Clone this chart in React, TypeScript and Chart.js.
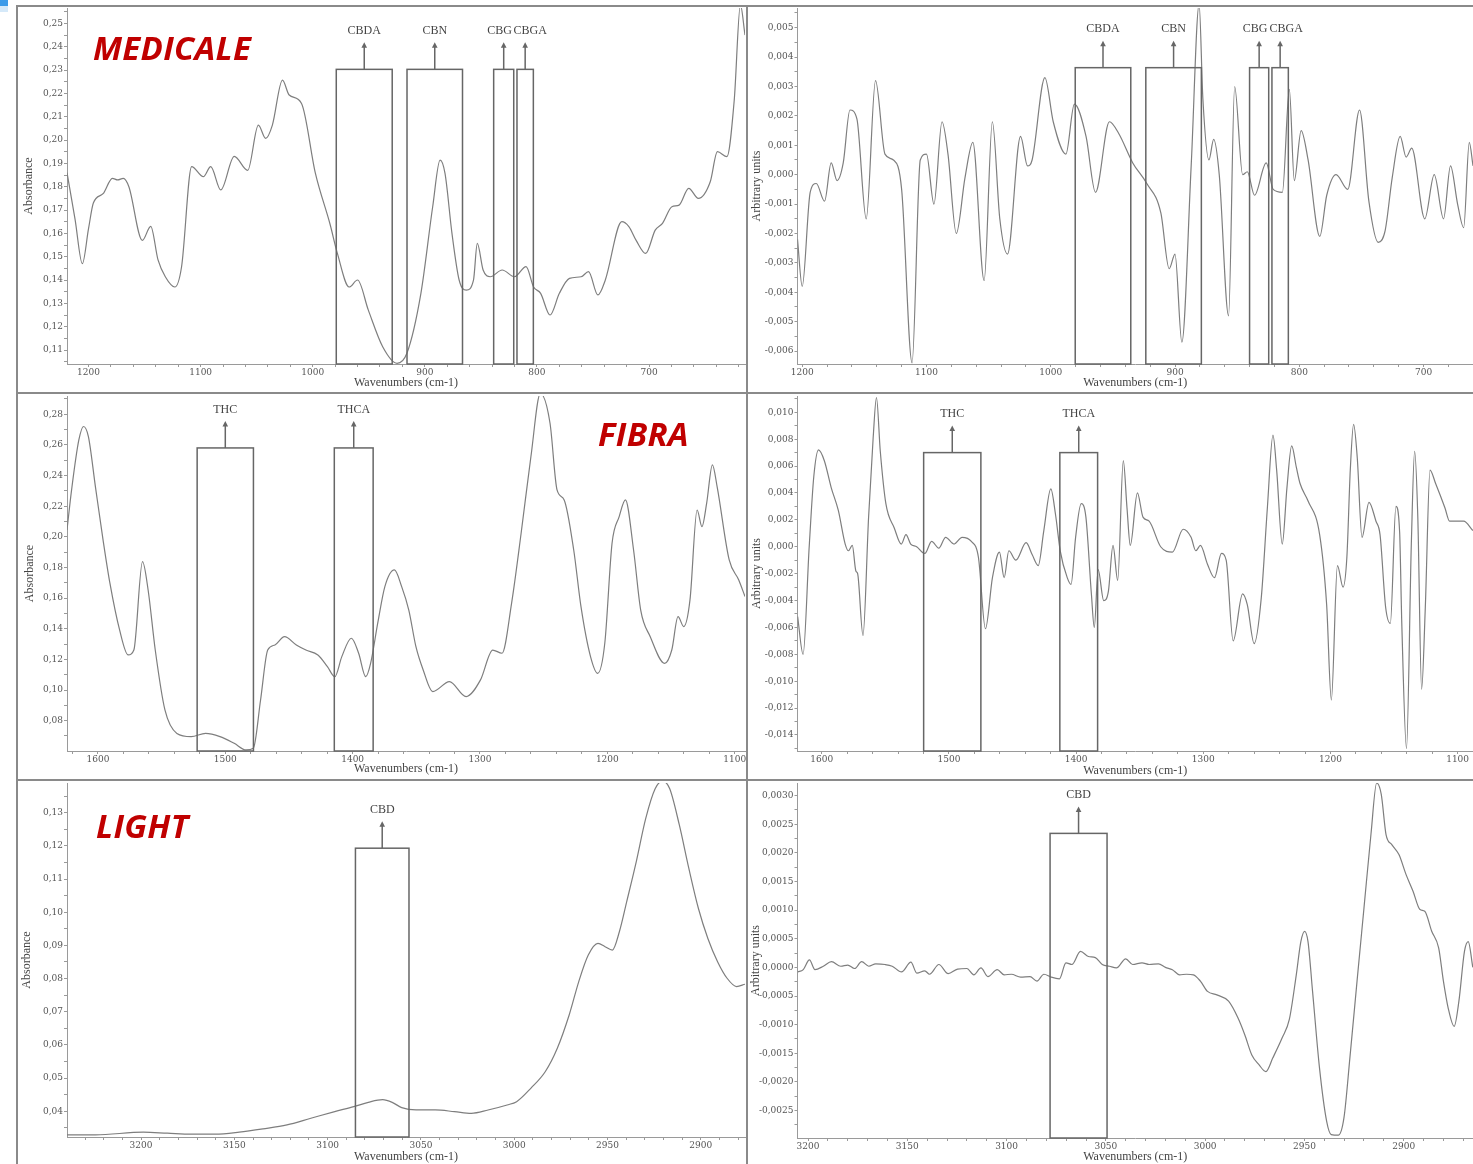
import React, { useEffect, useRef } from 'react';
import { Chart, registerables } from 'chart.js';

Chart.register(...registerables);

// ---------- MEDICALE : absorbance (top-left) ----------
const medWn = [1219.2, 1212, 1205.5, 1200, 1195.7, 1187, 1178.7, 1174, 1169, 1164, 1152, 1144.5, 1138, 1131.5, 1123, 1117, 1108, 1097.6, 1091, 1082, 1070, 1058, 1048.5, 1042, 1036, 1027, 1021, 1010, 997.6, 984.6, 978, 967.5, 960, 950.4, 937.6, 924.8, 916, 903.5, 893, 886.4, 882, 875.8, 869.4, 863, 856.6, 853.2, 848, 841.6, 831, 820, 809.7, 803, 796.7, 788.3, 780, 771, 760.6, 754, 745.6, 739, 724.3, 718, 711.5, 703, 694.5, 688, 679.6, 673.2, 664.6, 656, 645.4, 639, 630.5, 624, 618.5, 614.4];
const medAbs = [0.186, 0.166, 0.147, 0.162, 0.173, 0.177, 0.1836, 0.1829, 0.1836, 0.18, 0.157, 0.163, 0.1486, 0.1414, 0.137, 0.1457, 0.1886, 0.1843, 0.1886, 0.1786, 0.193, 0.187, 0.2064, 0.2007, 0.2064, 0.2257, 0.2193, 0.2157, 0.1857, 0.164, 0.1514, 0.137, 0.14, 0.1271, 0.1114, 0.1043, 0.1086, 0.1343, 0.1714, 0.1914, 0.1857, 0.16, 0.14, 0.1357, 0.14, 0.1557, 0.1443, 0.1414, 0.1443, 0.1414, 0.1457, 0.137, 0.1343, 0.125, 0.1343, 0.1407, 0.1414, 0.1436, 0.1336, 0.14, 0.165, 0.1629, 0.157, 0.1514, 0.1614, 0.1643, 0.1714, 0.1721, 0.1793, 0.175, 0.1821, 0.195, 0.1929, 0.2171, 0.258, 0.245];
const medBoxLabels = ['CBDA', 'CBN', 'CBG', 'CBGA'];
const medBoxFrom = [979.0, 915.9, 838.6, 817.8];
const medBoxTo = [929.1, 866.4, 820.7, 803.2];
const medBoxTop = 0.2303;

// ---------- MEDICALE : arbitrary units (top-right) ----------
const medDerWn = [1203.8, 1200, 1193.6, 1188.7, 1182, 1176.7, 1172, 1167, 1161.6, 1156, 1148.5, 1141, 1133.4, 1126.6, 1120, 1111.6, 1105, 1100, 1094, 1087.5, 1082.7, 1076, 1069, 1062.7, 1053.6, 1047, 1041, 1034.8, 1024.3, 1018.7, 1015, 1004.7, 998, 987.8, 981, 971.6, 964, 952.8, 945.3, 934, 922.7, 911.4, 904.7, 900, 894.5, 887, 880.6, 877.6, 872.7, 868.9, 864.4, 856.9, 852, 845.6, 841.8, 836, 826.6, 821, 813.6, 808, 804, 798.5, 792.9, 783.5, 777.9, 770.4, 761, 751.5, 744, 736.5, 730.9, 725.2, 718.8, 714, 709.5, 699, 691.4, 683.9, 678.3, 672.6, 667.7, 663.2, 660.2];
const medDerVal = [-0.0022, -0.0038, -0.0006, -0.0003, -0.0009, 0.0004, -0.0002, 0.0004, 0.0022, 0.0019, -0.0015, 0.0032, 0.0007, 0.0005, -0.0005, -0.0064, 0.0005, 0.0007, -0.001, 0.0018, 0.0007, -0.002, -0.0001, 0.0011, -0.0036, 0.0018, -0.0015, -0.0027, 0.0013, 0.0003, 0.0005, 0.0033, 0.0018, 0.0007, 0.0024, 0.0013, -0.0006, 0.0018, 0.0014, 0.0004, -0.0003, -0.0013, -0.0032, -0.0027, -0.0057, 0.0003, 0.0058, 0.0026, 0.0005, 0.0012, 0.0, -0.0048, 0.003, 0.0, 0.0001, -0.0007, 0.0004, -0.0005, -0.0006, 0.0029, -0.0002, 0.0015, 0.0005, -0.0021, -0.0007, 0.0, -0.0005, 0.0022, -0.0009, -0.0023, -0.0019, -0.0001, 0.0013, 0.0006, 0.0009, -0.0015, 0.0, -0.0015, 0.0003, -0.001, -0.0018, 0.0011, 0.0003];
const medDerBoxFrom = [980.3, 923.5, 840.0, 822.0];
const medDerBoxTo = [935.6, 878.8, 824.6, 808.8];
const medDerBoxTop = 0.00364;

// ---------- FIBRA : absorbance (middle-left) ----------
const fibWn = [1624.3, 1620.7, 1615, 1611.3, 1607.5, 1602, 1596, 1590.6, 1583, 1576.3, 1571.8, 1565, 1560.6, 1555, 1547.4, 1538, 1526.8, 1515.5, 1504.2, 1493, 1483.6, 1478, 1472.3, 1466.7, 1461, 1453.5, 1444.2, 1436.7, 1427.3, 1419.8, 1414, 1408.5, 1401, 1395.3, 1389.7, 1385.9, 1380.3, 1374.7, 1367.2, 1361.5, 1355.9, 1350.3, 1344.6, 1337.1, 1324, 1310.9, 1299.6, 1290, 1282.7, 1275.2, 1267.7, 1260, 1252.6, 1245, 1239.5, 1233.9, 1226.4, 1220.7, 1213.2, 1207.6, 1202, 1196.3, 1190.7, 1185.8, 1179.4, 1173.8, 1166.3, 1155, 1149.4, 1144.5, 1140, 1135.1, 1129.5, 1125.7, 1122, 1117.5, 1113.8, 1104.3, 1096.8, 1091.9];
const fibAbs = [0.2045, 0.2306, 0.2632, 0.272, 0.2654, 0.2328, 0.198, 0.1697, 0.1392, 0.1229, 0.1261, 0.1838, 0.1653, 0.1261, 0.087, 0.0717, 0.0696, 0.0717, 0.0696, 0.0652, 0.0609, 0.062, 0.0935, 0.1261, 0.1294, 0.1348, 0.1294, 0.1261, 0.1229, 0.1153, 0.1087, 0.1218, 0.1338, 0.124, 0.1087, 0.1174, 0.1436, 0.1675, 0.1784, 0.1675, 0.1522, 0.1283, 0.1131, 0.099, 0.1055, 0.0957, 0.1066, 0.1261, 0.124, 0.1566, 0.2023, 0.2524, 0.2935, 0.2741, 0.2306, 0.2241, 0.1914, 0.1544, 0.1218, 0.1109, 0.1305, 0.1958, 0.2132, 0.2241, 0.1914, 0.1522, 0.1348, 0.1174, 0.1261, 0.1479, 0.1414, 0.1588, 0.2175, 0.2067, 0.222, 0.247, 0.2328, 0.1849, 0.1718, 0.161];
const fibBoxLabels = ['THC', 'THCA'];
const fibBoxFrom = [1522.1, 1414.4];
const fibBoxTo = [1477.9, 1383.9];
const fibBoxTop = 0.258;

// ---------- FIBRA : arbitrary units (middle-right) ----------
const fibDerWn = [1619, 1614.7, 1609.9, 1606.3, 1602.6, 1598, 1592.6, 1587, 1581.6, 1579, 1576, 1573.2, 1571.8, 1567.6, 1563.2, 1559.6, 1557, 1554, 1549.6, 1543, 1537.5, 1533.8, 1530.1, 1525.4, 1519, 1513.6, 1508, 1502.6, 1496, 1489.7, 1482.4, 1476.8, 1471.3, 1465.8, 1460.3, 1456.6, 1452.9, 1447.4, 1439.3, 1434.5, 1429.8, 1425.4, 1419.9, 1416.2, 1412.5, 1407, 1404, 1400.4, 1396, 1392.3, 1388, 1385.7, 1382.7, 1378.3, 1374.6, 1371, 1367.3, 1362.9, 1360, 1357.4, 1351.8, 1347.4, 1342.6, 1333.5, 1324.3, 1315.8, 1309.6, 1305.9, 1302.2, 1296.7, 1291.2, 1285.7, 1282, 1276.5, 1269.1, 1265.4, 1260, 1254.4, 1249.6, 1245.2, 1242.3, 1237.9, 1234.2, 1230.5, 1226.8, 1223.9, 1217.6, 1208.5, 1203, 1199.3, 1194.5, 1190.1, 1187.1, 1184.4, 1181.8, 1178.9, 1175.2, 1169.7, 1164.2, 1161, 1156.6, 1152.9, 1148.5, 1145.6, 1143.9, 1140.2, 1136.4, 1133.8, 1131.3, 1128.3, 1125.4, 1121.7, 1117.3, 1110, 1106.3, 1095.3, 1087.9];
const fibDerVal = [-0.0052, -0.008, 0.0, 0.0052, 0.0072, 0.0064, 0.0044, 0.0027, 0.0002, -0.0003, 0.0001, -0.0018, -0.002, -0.0066, 0.0022, 0.0081, 0.0111, 0.0071, 0.0032, 0.0014, 0.0002, 0.0009, 0.0002, 0.0, -0.0005, 0.0004, -0.0001, 0.0007, 0.0002, 0.0007, 0.0004, -0.0008, -0.0061, -0.0023, -0.0004, -0.0023, -0.0003, -0.001, 0.0003, -0.0006, -0.0014, 0.0012, 0.0043, 0.0024, -0.0003, -0.0023, -0.0028, 0.0007, 0.0032, 0.0022, -0.0035, -0.006, -0.0017, -0.004, -0.0033, 0.0001, -0.0025, 0.0064, 0.0029, 0.0001, 0.004, 0.0022, 0.0019, 0.0, -0.0004, 0.0013, 0.0007, -0.0003, 0.0001, -0.0013, -0.0023, -0.0005, -0.001, -0.007, -0.0035, -0.0043, -0.0072, -0.0038, 0.0029, 0.0083, 0.0057, 0.0002, 0.0044, 0.0075, 0.0059, 0.0047, 0.0034, 0.0009, -0.0043, -0.0114, -0.0014, -0.003, -0.0008, 0.0057, 0.0091, 0.0066, 0.0007, 0.0033, 0.0019, 0.0009, -0.0045, -0.0057, 0.003, 0.0011, -0.0057, -0.015, 0.0002, 0.0071, 0.0022, -0.0106, -0.0045, 0.0057, 0.0047, 0.0029, 0.0019, 0.0019, 0.0012];
const fibDerBoxFrom = [1519.9, 1412.8];
const fibDerBoxTo = [1474.9, 1383.1];
const fibDerBoxTop = 0.007;

// ---------- LIGHT : absorbance (bottom-left) ----------
const litWn = [3239.7, 3224.4, 3198.7, 3185.9, 3173, 3160.3, 3147.4, 3134.6, 3121.8, 3109, 3096.2, 3086, 3078.2, 3070.5, 3065.4, 3060.3, 3052.6, 3042.3, 3032, 3023, 3014, 3003.8, 2998.7, 2991, 2983.3, 2976.9, 2970.5, 2965.4, 2960.3, 2955.1, 2951.3, 2947.4, 2943.6, 2939.7, 2934.6, 2929.5, 2924.4, 2920.5, 2916.7, 2911.5, 2906.4, 2901.3, 2896.2, 2891, 2885.9, 2880.8, 2876.3];
const litAbs = [0.0329, 0.0329, 0.0337, 0.0334, 0.0331, 0.0331, 0.0337, 0.0347, 0.0359, 0.0379, 0.0399, 0.0414, 0.0427, 0.0435, 0.0427, 0.0411, 0.0404, 0.0404, 0.0399, 0.0394, 0.0404, 0.0419, 0.0429, 0.047, 0.052, 0.059, 0.0691, 0.0791, 0.0871, 0.0906, 0.0896, 0.0886, 0.0942, 0.1032, 0.1152, 0.1283, 0.1373, 0.1395, 0.1373, 0.1263, 0.1132, 0.1012, 0.0921, 0.0851, 0.0801, 0.0776, 0.0783];
const litBoxLabels = ['CBD'];
const litBoxFrom = [3085.1];
const litBoxTo = [3056.4];
const litBoxTop = 0.1193;

// ---------- LIGHT : arbitrary units (bottom-right) ----------
const litDerWn = [3205.2, 3202.4, 3199.3, 3196.5, 3192.3, 3188.2, 3183.5, 3180, 3176.5, 3173, 3169.4, 3165.9, 3161.2, 3157.6, 3152.9, 3148.2, 3145.2, 3141.2, 3138.8, 3134.1, 3129.4, 3124.7, 3120, 3116.5, 3112.9, 3109.4, 3104.7, 3101.2, 3097.6, 3092.9, 3088.2, 3084.7, 3081.2, 3077.6, 3073.4, 3070.1, 3067.1, 3062.8, 3058.8, 3055.3, 3051.8, 3048.2, 3044.7, 3040, 3036.5, 3031.8, 3028.2, 3023.5, 3020, 3016.5, 3012.9, 3009.4, 3005.9, 3002.4, 2998.8, 2994.1, 2988.2, 2983.5, 2980, 2976.5, 2972.9, 2969.4, 2965.9, 2961.2, 2957.6, 2954.1, 2951.8, 2949.9, 2948.2, 2945.9, 2942.4, 2938.8, 2936.5, 2932.9, 2930.1, 2927.1, 2923.5, 2920, 2916.5, 2913.6, 2911.3, 2908.9, 2905.9, 2902.4, 2898.8, 2895.3, 2891.8, 2889.4, 2885.9, 2882.4, 2880, 2877.6, 2874.6, 2872.2, 2869.4, 2867.5, 2865.2];
const litDerVal = [-0.00008, -0.00004, 0.00013, -0.00004, 0.00002, 0.0001, 0.00002, 0.00004, -0.00002, 0.0001, 0.00002, 0.00006, 0.00005, 0.00002, -0.00008, 0.00009, -0.0001, -0.00006, -0.00012, 0.00005, -0.00011, -0.00003, -0.00002, -0.00013, -0.00001, -0.00016, -0.00004, -0.00013, -0.00012, -0.00017, -0.00016, -0.00024, -0.00012, -0.00017, -0.0002, 0.00008, 0.00005, 0.00028, 0.00019, 0.00017, 0.00005, 0.00002, -0.00001, 0.00015, 0.00005, 0.00008, 0.00005, 0.00006, 0.0, -0.00004, -0.00013, -0.00012, -0.00013, -0.00024, -0.00042, -0.00048, -0.00059, -0.00088, -0.00118, -0.00153, -0.0017, -0.00182, -0.00158, -0.00123, -0.00091, -0.00013, 0.00045, 0.00063, 0.00045, -0.00042, -0.00176, -0.00269, -0.00292, -0.00293, -0.00263, -0.00158, -0.00024, 0.00104, 0.00232, 0.00322, 0.00302, 0.00232, 0.00214, 0.00197, 0.00162, 0.00133, 0.00101, 0.00098, 0.00063, 0.00034, -0.00024, -0.00071, -0.00103, -0.00059, 0.00028, 0.00045, 0.0];
const litDerBoxFrom = [3078.1];
const litDerBoxTo = [3049.4];
const litDerBoxTop = 0.00234;

// ---------- styling ----------
const TICK_FONT = { family: "'DejaVu Serif', serif", size: 9 };
const TITLE_FONT = { family: "'Liberation Serif', 'Times New Roman', serif", size: 12 };
const LABEL_FONT = "12px 'Liberation Serif', 'Times New Roman', serif";
const TICK_COLOR = '#555';
const TITLE_COLOR = '#444';
const CURVE_COLOR = '#7e7e7e';
const BOX_COLOR = '#666';
const AXIS_COLOR = '#9a9a9a';
const FRAME_COLOR = '#8a8a8a';

const isMultiple = (v: number, step: number) => Math.abs(v / step - Math.round(v / step)) < 1e-6;
const fmt = (v: number, d: number) => {
  const s = v.toFixed(d);
  return (/^-0[.,]0*$/.test(s) ? s.slice(1) : s).replace('.', ',');
};

const peakBoxes = {
  id: 'peakBoxes',
  afterDatasetsDraw(chart: any, _args: any, opts: any) {
    const list = opts && opts.boxes;
    if (!list) return;
    const { ctx, chartArea } = chart;
    const xs = chart.scales.x;
    const ys = chart.scales.y;
    ctx.save();
    ctx.strokeStyle = BOX_COLOR;
    ctx.fillStyle = BOX_COLOR;
    ctx.lineWidth = 1.5;
    list.labels.forEach((label: string, i: number) => {
      const x1 = xs.getPixelForValue(list.from[i]);
      const x2 = xs.getPixelForValue(list.to[i]);
      const top = ys.getPixelForValue(list.top);
      const left = Math.min(x1, x2);
      const w = Math.abs(x2 - x1);
      ctx.strokeRect(left, top, w, chartArea.bottom - top);
      const cx = left + w / 2;
      const tip = top - 27;
      ctx.beginPath();
      ctx.moveTo(cx, top);
      ctx.lineTo(cx, tip + 4);
      ctx.stroke();
      ctx.beginPath();
      ctx.moveTo(cx, tip);
      ctx.lineTo(cx - 2.8, tip + 5.5);
      ctx.lineTo(cx + 2.8, tip + 5.5);
      ctx.closePath();
      ctx.fill();
      ctx.save();
      ctx.fillStyle = TITLE_COLOR;
      ctx.font = LABEL_FONT;
      ctx.textAlign = 'center';
      ctx.textBaseline = 'middle';
      const nudge = (opts.nudges && opts.nudges[i]) || 0;
      ctx.fillText(label, cx + nudge, top - 38.5);
      ctx.restore();
    });
    ctx.restore();
  },
};

type PanelSpec = {
  key: string;
  left: number; top: number; width: number; height: number;
  area: { l: number; t: number; r: number; b: number };
  xMin: number; xMax: number; xStep: number; xLabelStep: number;
  yMin: number; yMax: number; yStep: number; yLabelStep: number; yDecimals: number;
  yTitle: string; yTitlePad: number; xTitlePad: number;
  wn: number[]; val: number[];
  boxes: { labels: string[]; from: number[]; to: number[]; top: number };
  nudges: number[];
};

const panels: PanelSpec[] = [
  {
    key: 'med', left: 18, top: 7, width: 728, height: 385,
    area: { l: 67, t: 8, r: 745, b: 364 },
    xMin: 614.4, xMax: 1219.2, xStep: 20, xLabelStep: 100,
    yMin: 0.104, yMax: 0.2566, yStep: 0.005, yLabelStep: 0.01, yDecimals: 2,
    yTitle: 'Absorbance', yTitlePad: 3.8, xTitlePad: 2.1,
    wn: medWn, val: medAbs,
    boxes: { labels: medBoxLabels, from: medBoxFrom, to: medBoxTo, top: medBoxTop },
    nudges: [0, 0, -4, 5],
  },
  {
    key: 'medDer', left: 748, top: 7, width: 725, height: 385,
    area: { l: 797.5, t: 8, r: 1473, b: 364 },
    xMin: 660.2, xMax: 1203.8, xStep: 20, xLabelStep: 100,
    yMin: -0.00644, yMax: 0.00567, yStep: 0.0005, yLabelStep: 0.001, yDecimals: 3,
    yTitle: 'Arbitrary units', yTitlePad: 1.2, xTitlePad: 2.1,
    wn: medDerWn, val: medDerVal,
    boxes: { labels: medBoxLabels, from: medDerBoxFrom, to: medDerBoxTo, top: medDerBoxTop },
    nudges: [0, 0, -4, 6],
  },
  {
    key: 'fib', left: 18, top: 394, width: 728, height: 385,
    area: { l: 67, t: 396, r: 745, b: 751 },
    xMin: 1091.9, xMax: 1624.3, xStep: 20, xLabelStep: 100,
    yMin: 0.0602, yMax: 0.2919, yStep: 0.01, yLabelStep: 0.02, yDecimals: 2,
    yTitle: 'Absorbance', yTitlePad: 4.5, xTitlePad: 2.5,
    wn: fibWn, val: fibAbs,
    boxes: { labels: fibBoxLabels, from: fibBoxFrom, to: fibBoxTo, top: fibBoxTop },
    nudges: [0, 0],
  },
  {
    key: 'fibDer', left: 748, top: 394, width: 725, height: 385,
    area: { l: 797.5, t: 396, r: 1473, b: 751 },
    xMin: 1087.9, xMax: 1619.1, xStep: 20, xLabelStep: 100,
    yMin: -0.01519, yMax: 0.01121, yStep: 0.001, yLabelStep: 0.002, yDecimals: 3,
    yTitle: 'Arbitrary units', yTitlePad: 1.2, xTitlePad: 0.8,
    wn: fibDerWn, val: fibDerVal,
    boxes: { labels: fibBoxLabels, from: fibDerBoxFrom, to: fibDerBoxTo, top: fibDerBoxTop },
    nudges: [0, 0],
  },
  {
    key: 'lit', left: 18, top: 781, width: 728, height: 383,
    area: { l: 67, t: 783, r: 745, b: 1137 },
    xMin: 2876.3, xMax: 3239.7, xStep: 10, xLabelStep: 50,
    yMin: 0.03225, yMax: 0.13895, yStep: 0.005, yLabelStep: 0.01, yDecimals: 2,
    yTitle: 'Absorbance', yTitlePad: 1.8, xTitlePad: 0.1,
    wn: litWn, val: litAbs,
    boxes: { labels: litBoxLabels, from: litBoxFrom, to: litBoxTo, top: litBoxTop },
    nudges: [0],
  },
  {
    key: 'litDer', left: 748, top: 781, width: 725, height: 383,
    area: { l: 797.5, t: 783, r: 1473, b: 1138 },
    xMin: 2865.1, xMax: 3205.3, xStep: 10, xLabelStep: 50,
    yMin: -0.00298, yMax: 0.00322, yStep: 0.00025, yLabelStep: 0.0005, yDecimals: 4,
    yTitle: 'Arbitrary units', yTitlePad: 0.8, xTitlePad: 0,
    wn: litDerWn, val: litDerVal,
    boxes: { labels: litBoxLabels, from: litDerBoxFrom, to: litDerBoxTo, top: litDerBoxTop },
    nudges: [0],
  },
];

function buildConfig(p: PanelSpec): any {
  const yAxisW = p.area.l - p.left;
  const xAxisH = p.top + p.height - p.area.b;
  const padTop = p.area.t - p.top;
  const padRight = p.left + p.width - p.area.r;
  return {
    type: 'line',
    data: {
      datasets: [
        {
          data: p.wn.map((x, i) => ({ x, y: p.val[i] })),
          borderColor: CURVE_COLOR,
          borderWidth: 1.2,
          pointRadius: 0,
          fill: false,
          cubicInterpolationMode: 'monotone',
        },
      ],
    },
    options: {
      responsive: false,
      animation: false,
      devicePixelRatio: 1,
      events: [],
      layout: { padding: { left: 0, top: padTop, right: padRight, bottom: 0 } },
      plugins: {
        legend: { display: false },
        tooltip: { enabled: false },
        peakBoxes: { boxes: p.boxes, nudges: p.nudges },
      },
      scales: {
        x: {
          type: 'linear',
          reverse: true,
          min: p.xMin,
          max: p.xMax,
          afterFit: (s: any) => {
            s.height = xAxisH;
            s.paddingLeft = 0;
            s.paddingRight = 0;
          },
          ticks: {
            stepSize: p.xStep,
            includeBounds: false,
            autoSkip: false,
            maxRotation: 0,
            minRotation: 0,
            padding: 0,
            font: TICK_FONT,
            color: TICK_COLOR,
            callback: (v: number) => (isMultiple(v, p.xLabelStep) ? String(Math.round(v)) : ''),
          },
          grid: { drawOnChartArea: false, drawTicks: true, tickLength: 3, color: AXIS_COLOR },
          border: { display: true, color: AXIS_COLOR, width: 1, dash: [3, 2] },
          title: {
            display: true,
            text: 'Wavenumbers (cm-1)',
            font: TITLE_FONT,
            color: TITLE_COLOR,
            padding: { top: 0, bottom: p.xTitlePad },
          },
        },
        y: {
          type: 'linear',
          min: p.yMin,
          max: p.yMax,
          afterFit: (s: any) => {
            s.width = yAxisW;
            s.paddingTop = 0;
            s.paddingBottom = 0;
          },
          ticks: {
            stepSize: p.yStep,
            includeBounds: false,
            autoSkip: false,
            padding: 1,
            font: TICK_FONT,
            color: TICK_COLOR,
            callback: (v: number) => (isMultiple(v, p.yLabelStep) ? fmt(v, p.yDecimals) : ''),
          },
          grid: { drawOnChartArea: false, drawTicks: true, tickLength: 3, color: AXIS_COLOR },
          border: { display: true, color: AXIS_COLOR, width: 1, dash: [3, 2] },
          title: {
            display: true,
            text: p.yTitle,
            font: TITLE_FONT,
            color: TITLE_COLOR,
            padding: { top: p.yTitlePad, bottom: 0 },
          },
        },
      },
    },
    plugins: [peakBoxes],
  };
}

function SpectrumPanel({ spec }: { spec: PanelSpec }) {
  const ref = useRef<HTMLCanvasElement>(null);
  useEffect(() => {
    if (!ref.current) return;
    const chart = new Chart(ref.current, buildConfig(spec));
    return () => chart.destroy();
  }, [spec]);
  return (
    <canvas
      ref={ref}
      width={spec.width}
      height={spec.height}
      style={{ position: 'absolute', left: spec.left, top: spec.top, width: spec.width, height: spec.height }}
    />
  );
}

const sampleTitles = [
  { text: 'MEDICALE', left: 93, top: 31 },
  { text: 'FIBRA', left: 598, top: 417 },
  { text: 'LIGHT', left: 96, top: 809 },
];

const line = (left: number, top: number, width: number, height: number, key: string) => (
  <div key={key} style={{ position: 'absolute', left, top, width, height, background: FRAME_COLOR }} />
);

export default function App() {
  return (
    <div
      style={{
        position: 'absolute',
        left: 0,
        top: 0,
        width: 1473,
        height: 1164,
        background: '#fff',
        overflow: 'hidden',
      }}
    >
      {panels.map((p) => (
        <SpectrumPanel key={p.key} spec={p} />
      ))}
      {line(16, 5, 1457, 2, 'top')}
      {line(16, 5, 2, 1159, 'left')}
      {line(746, 5, 2, 1159, 'mid')}
      {line(16, 392, 1457, 2, 'row1')}
      {line(16, 779, 1457, 2, 'row2')}
      <div style={{ position: 'absolute', left: 0, top: 0, width: 8, height: 6, background: '#3d9be9' }} />
      <div style={{ position: 'absolute', left: 0, top: 6, width: 8, height: 6, background: '#d5e9f9' }} />
      {sampleTitles.map((t) => (
        <div
          key={t.text}
          style={{
            position: 'absolute',
            left: t.left,
            top: t.top,
            fontFamily: "'Open Sans', 'Liberation Sans', sans-serif",
            fontWeight: 700,
            fontStyle: 'italic',
            fontSize: 33,
            lineHeight: '33px',
            letterSpacing: 0.3,
            color: '#c00000',
            whiteSpace: 'nowrap',
          }}
        >
          {t.text}
        </div>
      ))}
    </div>
  );
}
